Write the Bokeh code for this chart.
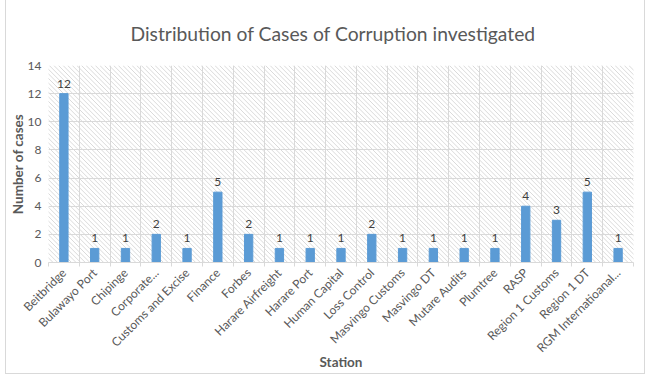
import math
from bokeh.plotting import figure
from bokeh.models import ColumnDataSource, FixedTicker, Range1d, LabelSet
from bokeh.core.properties import value
from bokeh.embed import file_html
from bokeh.resources import INLINE

stations = ["Beitbridge", "Bulawayo Port", "Chipinge", "Corporate...", "Customs and Excise",
            "Finance", "Forbes", "Harare Airfreight", "Harare Port", "Human Capital",
            "Loss Control", "Masvingo Customs", "Masvingo DT", "Mutare Audits", "Plumtree",
            "RASP", "Region 1 Customs", "Region 1 DT", "RGM Internatioanal..."]
cases = [12, 1, 1, 2, 1, 5, 2, 1, 1, 1, 2, 1, 1, 1, 1, 4, 3, 5, 1]
y_ticks = [0, 2, 4, 6, 8, 10, 12, 14]

n = len(stations)
y_max = 14
FW, FH = 585, 197
xs = [i + 0.5 for i in range(n)]
src = ColumnDataSource(dict(x=xs, top=cases, label=[str(v) for v in cases]))

FONT = "Lato"
GREY = "#595959"

p = figure(frame_width=FW, frame_height=FH, output_backend="svg", toolbar_location=None,
           x_range=Range1d(0, n), y_range=Range1d(0, y_max),
           min_border_left=40, min_border_right=11, min_border_top=56, min_border_bottom=108)
p.styles = {"border": "1px solid #d9d9d9", "margin-left": "5px", "margin-top": "-3px"}
p.outline_line_color = None

p.title.text = "Distribution of Cases of Corruption investigated"
p.title.align = "left"
p.title.offset = 82
p.title.text_font = FONT
p.title.text_font_size = "19.3px"
p.title.text_font_style = "normal"
p.title.text_color = GREY
p.title.standoff = 42

# background hatch of the plot area (decorative pattern, "\\" direction)
sx, sy = FW / n, FH / y_max
step = 4.6
hx0, hx1, hy0, hy1 = [], [], [], []
c = -FH
while c < FW:
    hx0.append(c / sx); hy0.append(y_max)
    hx1.append((c + FH) / sx); hy1.append(0)
    c += step
p.segment(hx0, hy0, hx1, hy1, line_color="#d6d6d6", line_width=0.9, level="image")

p.vbar(x="x", top="top", width=0.27, source=src, color="#5b9bd5")

labels = LabelSet(x="x", y="top", text="label", source=src, text_align="center",
                  text_baseline="bottom", y_offset=6, text_font=value(FONT),
                  text_font_size="12px", text_color="#404040")
p.add_layout(labels)

# x axis
p.xaxis.ticker = FixedTicker(ticks=xs, minor_ticks=list(range(n + 1)))
p.xaxis.major_label_overrides = {x: s for x, s in zip(xs, stations)}
p.xaxis.major_label_orientation = math.pi / 4
p.xaxis.major_tick_line_color = None
p.xaxis.major_tick_out = 0
p.xaxis.major_tick_in = 0
p.xaxis.minor_tick_line_color = "#d9d9d9"
p.xaxis.minor_tick_out = 4
p.xaxis.minor_tick_in = 0
p.xaxis.axis_line_color = "#d9d9d9"
p.xaxis.major_label_text_font = FONT
p.xaxis.major_label_text_font_size = "12px"
p.xaxis.major_label_text_color = GREY
p.xaxis.major_label_standoff = 4
p.xaxis.axis_label = "Station"
p.xaxis.axis_label_text_font = FONT
p.xaxis.axis_label_text_font_size = "13.5px"
p.xaxis.axis_label_text_font_style = "bold"
p.xaxis.axis_label_text_color = GREY
p.xaxis.axis_label_standoff = -9

# y axis
p.yaxis.ticker = FixedTicker(ticks=y_ticks)
p.yaxis.axis_line_color = None
p.yaxis.major_tick_line_color = None
p.yaxis.major_tick_out = 0
p.yaxis.major_tick_in = 0
p.yaxis.minor_tick_line_color = None
p.yaxis.minor_tick_out = 0
p.yaxis.minor_tick_in = 0
p.yaxis.major_label_text_font = FONT
p.yaxis.major_label_text_font_size = "12px"
p.yaxis.major_label_text_color = GREY
p.yaxis.major_label_standoff = 7
p.yaxis.axis_label = "Number of cases"
p.yaxis.axis_label_text_font = FONT
p.yaxis.axis_label_text_font_size = "13.5px"
p.yaxis.axis_label_text_font_style = "bold"
p.yaxis.axis_label_text_color = GREY
p.yaxis.axis_label_standoff = -1

p.xgrid.ticker = FixedTicker(ticks=list(range(n + 1)))
p.ygrid.ticker = FixedTicker(ticks=y_ticks)
p.xgrid.grid_line_color = "#d9d9d9"
p.ygrid.grid_line_color = "#d9d9d9"

open("out.html", "w").write(file_html(p, INLINE))
